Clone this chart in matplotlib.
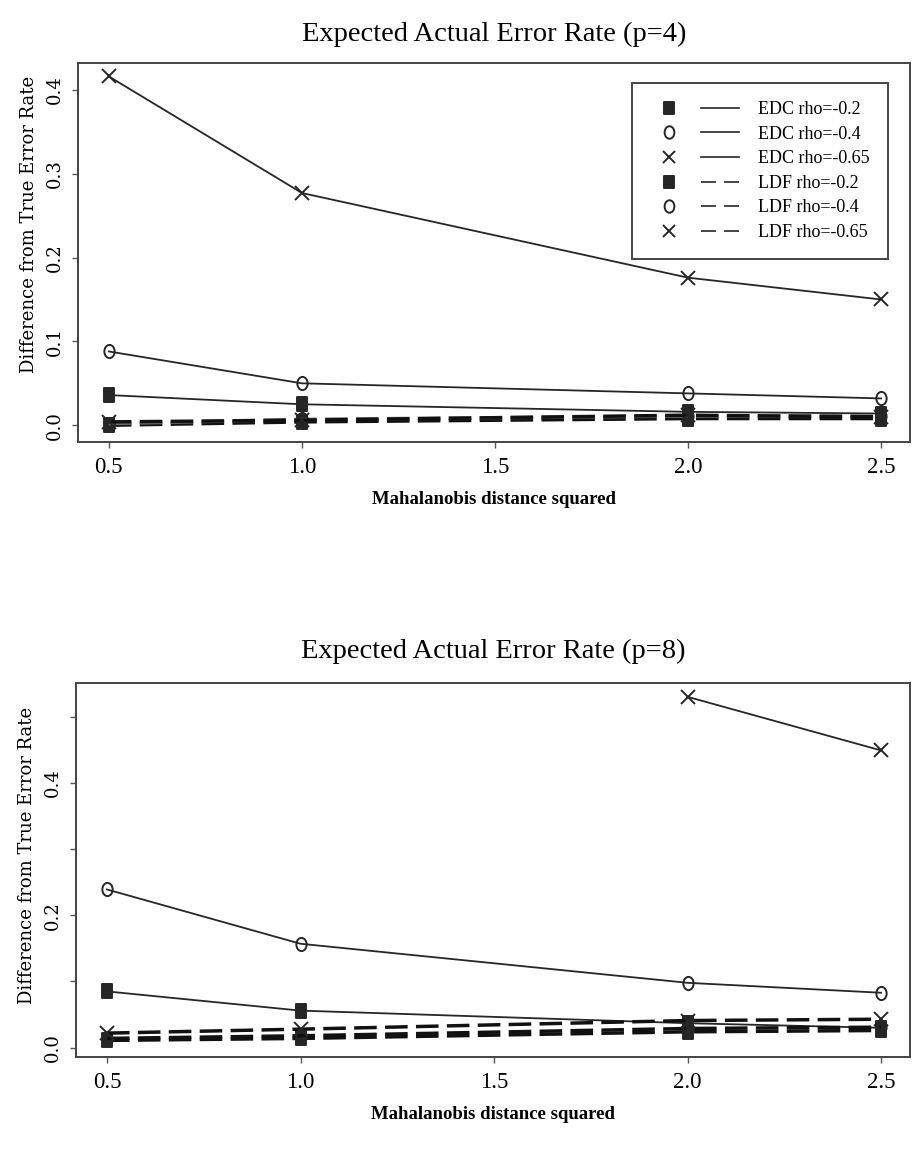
import numpy as np
import matplotlib
matplotlib.use("Agg")
import matplotlib.pyplot as plt
from matplotlib.path import Path
from matplotlib.transforms import Affine2D
from matplotlib.lines import Line2D
from matplotlib.legend_handler import HandlerTuple
from matplotlib.ticker import MultipleLocator

# Mahalanobis distance squared
delta2 = [0.5, 1.0, 2.0, 2.5]
xtick_labels = ["0.5", "1.0", "1.5", "2.0", "2.5"]

# p = 4, difference from true error rate
p4_edc_02 = [0.036, 0.025, 0.016, 0.014]
p4_edc_04 = [0.088, 0.050, 0.038, 0.032]
p4_edc_065 = [0.416, 0.277, 0.176, 0.150]
p4_ldf_02 = [0.000, 0.004, 0.008, 0.008]
p4_ldf_04 = [0.002, 0.007, 0.011, 0.011]
p4_ldf_065 = [0.004, 0.006, 0.012, 0.010]

# p = 8 (EDC rho=-0.65 is off the scale for the two smallest distances)
p8_edc_02 = [0.085, 0.056, 0.037, 0.030]
p8_edc_04 = [0.239, 0.157, 0.098, 0.083]
p8_edc_065 = [np.nan, np.nan, 0.530, 0.449]
p8_ldf_02 = [0.011, 0.014, 0.024, 0.026]
p8_ldf_04 = [0.014, 0.018, 0.029, 0.031]
p8_ldf_065 = [0.022, 0.028, 0.041, 0.043]

labels = ["EDC rho=-0.2", "EDC rho=-0.4", "EDC rho=-0.65",
          "LDF rho=-0.2", "LDF rho=-0.4", "LDF rho=-0.65"]

# S-Plus style markers: tall filled box, tall open "O", "x"
BOX = Path([(-0.4, -0.5), (0.4, -0.5), (0.4, 0.5), (-0.4, 0.5), (-0.4, -0.5)], closed=True)
OVAL = Path.unit_circle().transformed(Affine2D().scale(0.78, 1.0))

INK = "#262626"
SERIF = "Liberation Serif"


def style(i):
    mk = [BOX, OVAL, "x"][i % 3]
    filled = i % 3 == 0
    kw = dict(marker=mk, markersize=9.5,
              markerfacecolor=INK if filled else "none",
              markeredgecolor=INK, markeredgewidth=1.4)
    return kw


def draw(ax, series, gray_ldf=False):
    for i, ys in enumerate(series):
        kw = style(i)
        if i < 3:
            ax.plot(delta2, ys, color=INK, lw=1.3, zorder=3, **kw)
        else:
            col = "#6e6e6e" if (gray_ldf and i == 4) else "#111111"
            ax.plot(delta2, ys, color=col, lw=2.5, dashes=(6.5, 2.4), zorder=4, **kw)

    ax.set_xlim(0.42, 2.575)
    ax.set_xticks([0.5, 1.0, 1.5, 2.0, 2.5])
    ax.set_xticklabels(xtick_labels, fontfamily=SERIF, fontsize=16.5)
    ax.set_xlabel("Mahalanobis distance squared", fontfamily=SERIF,
                  fontsize=13.5, fontweight="bold", labelpad=9)
    for sp in ax.spines.values():
        sp.set_color("#444444")
        sp.set_linewidth(1.4)
    ax.tick_params(which="both", direction="out", length=4, width=1, color="#555555")
    ax.tick_params(axis="x", pad=7)
    ax.tick_params(axis="y", pad=6)
    for t in ax.get_yticklabels():
        t.set_rotation(90)
        t.set_va("center")
        t.set_fontfamily("DejaVu Serif")
        t.set_fontsize(13)
    ax.set_ylabel("Difference from True Error Rate", fontfamily="DejaVu Serif", fontsize=13)


fig = plt.figure(figsize=(9.14, 11.52), dpi=100)

# ---- p = 4 ----
ax1 = fig.add_axes([0.0853, 0.6163, 0.9103, 0.3290])
ax1.set_ylim(-0.020, 0.432)
ax1.yaxis.set_major_locator(MultipleLocator(0.1))
draw(ax1, [p4_edc_02, p4_edc_04, p4_edc_065, p4_ldf_02, p4_ldf_04, p4_ldf_065], gray_ldf=True)
ax1.yaxis.set_label_coords(-0.048, 0.575)
ax1.set_title("Expected Actual Error Rate (p=4)", fontfamily=SERIF, fontsize=20.5, pad=16)

handles = []
for i in range(6):
    kw = style(i)
    kw["markersize"] = 9
    mk = Line2D([], [], ls="none", **kw)
    if i < 3:
        ln = Line2D([], [], color=INK, lw=1.2)
    else:
        ln = Line2D([], [], color=INK, lw=1.2, dashes=(9, 4.8))
    handles.append((mk, ln))
leg = ax1.legend(handles, labels, loc="upper left", bbox_to_anchor=(0.666, 0.947),
                 borderaxespad=0, handler_map={tuple: HandlerTuple(ndivide=None, pad=0.7)},
                 handlelength=4.9, handletextpad=1.1, labelspacing=0.42, borderpad=1.0,
                 frameon=True, fancybox=False, framealpha=1,
                 prop={"family": SERIF, "size": 13})
leg.get_frame().set_edgecolor("#444444")
leg.get_frame().set_linewidth(1.4)

# ---- p = 8 ----
ax2 = fig.add_axes([0.0832, 0.0825, 0.9125, 0.3247])
ax2.set_ylim(-0.014, 0.551)
ax2.yaxis.set_major_locator(MultipleLocator(0.2))
ax2.yaxis.set_minor_locator(MultipleLocator(0.1))
draw(ax2, [p8_edc_02, p8_edc_04, p8_edc_065, p8_ldf_02, p8_ldf_04, p8_ldf_065])
ax2.yaxis.set_label_coords(-0.048, 0.54)
ax2.set_title("Expected Actual Error Rate (p=8)", fontfamily=SERIF, fontsize=20.5, pad=18)

fig.savefig("out.png", dpi=100)
